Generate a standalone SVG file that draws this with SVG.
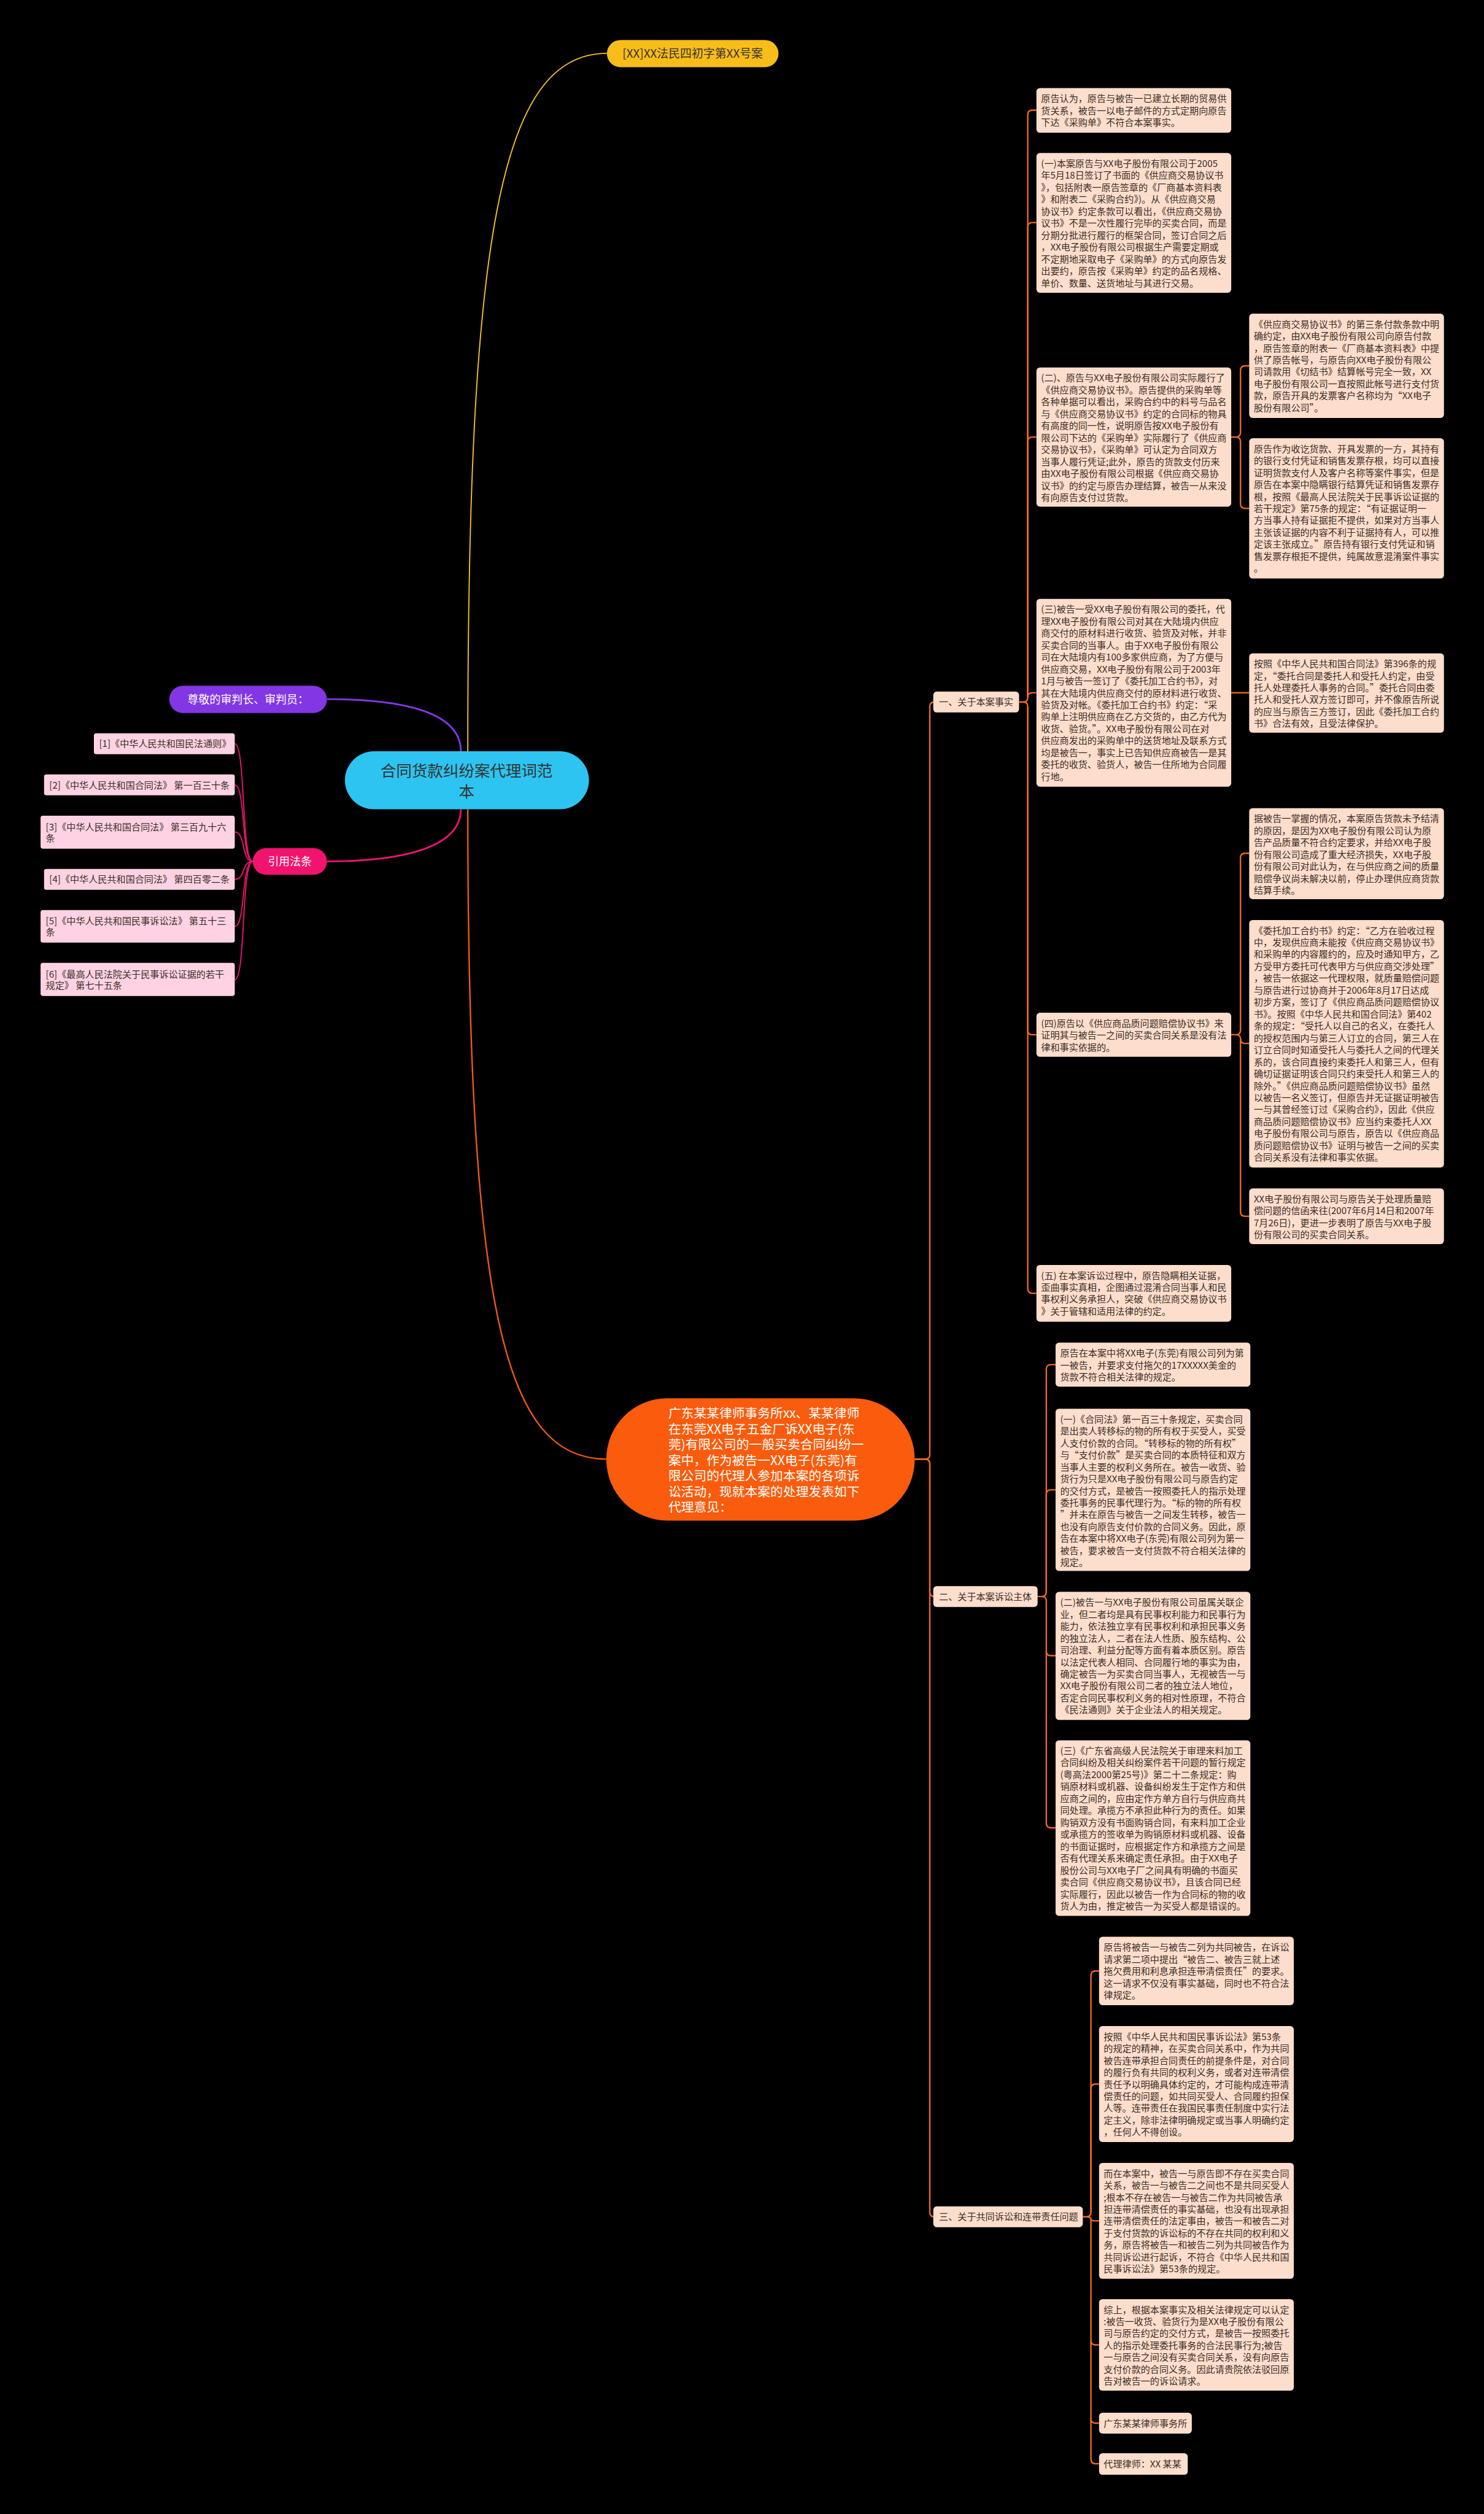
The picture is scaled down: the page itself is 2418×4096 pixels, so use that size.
<svg xmlns="http://www.w3.org/2000/svg" width="2418" height="4096" viewBox="0 0 2418 4096">
<style>
text{font-family:"Noto Sans CJK SC","Noto Sans",sans-serif}
.b{fill:#FDDDCB}
.t{font-size:16px;fill:#3a2e28}
.p{fill:#FFD2E3}
.c{fill:none;stroke:#EC6A22;stroke-width:2.5}
.w{fill:#fff}
</style>
<rect width="2418" height="4096" fill="#000"/>
<g transform="scale(0.9445)">
<g id="connectors">
<path d="M807,1296 C807,420 860,92 1047,92" fill="none" stroke="#F5C21B" stroke-width="2"/>
<path d="M564,1206 C700,1206 795,1230 795,1296" fill="none" stroke="#8438E6" stroke-width="3"/>
<path d="M795,1396 C795,1460 700,1486 564,1486" fill="none" stroke="#EC1470" stroke-width="3"/>
<path d="M807,1396 C807,2260 870,2517 1046,2517" fill="none" stroke="#F05A10" stroke-width="2.5"/>
<g fill="none" stroke="#EC1470" stroke-width="2">
<path d="M436,1486 C416,1486 424,1283 405,1283"/>
<path d="M436,1486 C416,1486 424,1354 405,1354"/>
<path d="M436,1486 C416,1486 424,1435 405,1435"/>
<path d="M436,1486 C416,1486 424,1517 405,1517"/>
<path d="M436,1486 C416,1486 424,1598 405,1598"/>
<path d="M436,1486 C416,1486 424,1690 405,1690"/>
</g>
<path class="c" d="M1578,2517 H1596 Q1604,2517 1604,2509 V1219 Q1604,1211 1612,1211"/>
<path class="c" d="M1578,2517 H1596 Q1604,2517 1604,2525 V2746 Q1604,2754 1612,2754"/>
<path class="c" d="M1578,2517 H1596 Q1604,2517 1604,2525 V3816 Q1604,3824 1612,3824"/>
<path class="c" d="M1758,1211 H1765 Q1773,1211 1773,1203 V198 Q1773,190 1781,190 H1788"/>
<path class="c" d="M1773,1203 V392 Q1773,384 1781,384 H1788"/>
<path class="c" d="M1773,1203 V762 Q1773,754 1781,754 H1788"/>
<path class="c" d="M1773,1203 Q1773,1195 1781,1195 H1788"/>
<path class="c" d="M1765,1211 Q1773,1211 1773,1219 V1777 Q1773,1785 1781,1785 H1788"/>
<path class="c" d="M1773,1219 V2223 Q1773,2231 1781,2231 H1788"/>
<path class="c" d="M2124,754 H2132 Q2140,754 2140,746 V639 Q2140,631 2148,631 H2155"/>
<path class="c" d="M2132,754 Q2140,754 2140,762 V869 Q2140,877 2148,877 H2155"/>
<path class="c" d="M2124,1195 H2155"/>
<path class="c" d="M2124,1785 H2132 Q2140,1785 2140,1777 V1480 Q2140,1472 2148,1472 H2155"/>
<path class="c" d="M2132,1785 Q2140,1785 2140,1792 Q2140,1800 2148,1800 H2155"/>
<path class="c" d="M2140,1792 V2090 Q2140,2098 2148,2098 H2155"/>
<path class="c" d="M1790,2754 H1797 Q1805,2754 1805,2746 V2362 Q1805,2354 1813,2354 H1821"/>
<path class="c" d="M1805,2746 V2578 Q1805,2570 1813,2570 H1821"/>
<path class="c" d="M1797,2754 Q1805,2754 1805,2762 V2848 Q1805,2856 1813,2856 H1821"/>
<path class="c" d="M1805,2848 V3145 Q1805,3153 1813,3153 H1821"/>
<path class="c" d="M1868,3824 H1874 Q1882,3824 1882,3816 V3408 Q1882,3400 1890,3400 H1896"/>
<path class="c" d="M1882,3816 V3603 Q1882,3595 1890,3595 H1896"/>
<path class="c" d="M1874,3824 Q1882,3824 1882,3828 Q1882,3831 1890,3831 H1896"/>
<path class="c" d="M1882,3828 V4037 Q1882,4045 1890,4045 H1896"/>
<path class="c" d="M1882,4037 V4172 Q1882,4180 1890,4180 H1896"/>
<path class="c" d="M1882,4172 V4242 Q1882,4250 1890,4250 H1896"/>
</g>

<g id="title"><rect x="1047" y="69" width="296" height="47" rx="23.5" fill="#F8BD18"/><text x="1195" y="99" font-size="20" fill="#333" text-anchor="middle">[XX]XX法民四初字第XX号案</text></g>
<g id="root"><rect x="595" y="1296" width="421" height="100" rx="50" fill="#2DC4F1"/><text font-size="27" fill="#333" text-anchor="middle"><tspan x="805" y="1339">合同货款纠纷案代理词范</tspan><tspan x="805" y="1375">本</tspan></text></g>
<g id="judge"><rect x="292" y="1183" width="272" height="47" rx="23.5" fill="#8236E4"/><text class="w" x="428" y="1213" font-size="19" text-anchor="middle">尊敬的审判长、审判员：</text></g>
<g id="cite"><rect x="436" y="1463" width="128" height="46" rx="23" fill="#F2136E"/><text class="w" x="500" y="1493" font-size="19" text-anchor="middle">引用法条</text></g>
<g id="cite1"><rect class="p" x="162" y="1265" width="243" height="36" rx="4"/><text class="t" x="171" y="1289">[1]《中华人民共和国民法通则》</text></g>
<g id="cite2"><rect class="p" x="76" y="1336" width="329" height="36" rx="4"/><text class="t" x="85" y="1360">[2]《中华人民共和国合同法》 第一百三十条</text></g>
<g id="cite3"><rect class="p" x="70" y="1407" width="335" height="57" rx="4"/><text class="t"><tspan x="79" y="1433">[3]《中华人民共和国合同法》 第三百九十六</tspan><tspan x="79" y="1452">条</tspan></text></g>
<g id="cite4"><rect class="p" x="76" y="1499" width="329" height="36" rx="4"/><text class="t" x="85" y="1523">[4]《中华人民共和国合同法》 第四百零二条</text></g>
<g id="cite5"><rect class="p" x="70" y="1570" width="335" height="56" rx="4"/><text class="t"><tspan x="79" y="1595">[5]《中华人民共和国民事诉讼法》 第五十三</tspan><tspan x="79" y="1614">条</tspan></text></g>
<g id="cite6"><rect class="p" x="70" y="1661" width="335" height="57" rx="4"/><text class="t"><tspan x="79" y="1687">[6]《最高人民法院关于民事诉讼证据的若干</tspan><tspan x="79" y="1706">规定》 第七十五条</tspan></text></g>

<g id="main"><rect x="1046" y="2412" width="532" height="211" rx="105" fill="#FA5B0C"/><text class="w" font-size="22"><tspan x="1153" y="2446">广东某某律师事务所xx、某某律师</tspan><tspan x="1153" y="2473">在东莞XX电子五金厂诉XX电子(东</tspan><tspan x="1153" y="2500">莞)有限公司的一般买卖合同纠纷一</tspan><tspan x="1153" y="2527">案中，作为被告一XX电子(东莞)有</tspan><tspan x="1153" y="2554">限公司的代理人参加本案的各项诉</tspan><tspan x="1153" y="2581">讼活动，现就本案的处理发表如下</tspan><tspan x="1153" y="2608">代理意见：</tspan></text></g>

<g id="sec1"><rect class="b" x="1610" y="1193" width="148" height="36" rx="6"/><text class="t" x="1620" y="1217">一、关于本案事实</text></g>
<g id="sec2"><rect class="b" x="1610" y="2736" width="180" height="36" rx="6"/><text class="t" x="1620" y="2760">二、关于本案诉讼主体</text></g>
<g id="sec3"><rect class="b" x="1610" y="3806" width="258" height="36" rx="6"/><text class="t" x="1620" y="3830">三、关于共同诉讼和连带责任问题</text></g>

<g id="a1" transform="translate(1788,152)"><rect class="b" width="336" height="77" rx="6"/><text class="t" y="24"><tspan x="8">原告认为，原告与被告一已建立长期的贸易供</tspan><tspan x="8" dy="20.6">货关系，被告一以电子邮件的方式定期向原告</tspan><tspan x="8" dy="20.6">下达《采购单》不符合本案事实。</tspan></text></g>
<g id="a2" transform="translate(1788,264)"><rect class="b" width="336" height="241" rx="6"/><text class="t" y="24"><tspan x="8">(一)本案原告与XX电子股份有限公司于2005</tspan><tspan x="8" dy="20.6">年5月18日签订了书面的《供应商交易协议书</tspan><tspan x="8" dy="20.6">》，包括附表一原告签章的《厂商基本资料表</tspan><tspan x="8" dy="20.6">》和附表二《采购合约》)。从《供应商交易</tspan><tspan x="8" dy="20.6">协议书》约定条款可以看出，《供应商交易协</tspan><tspan x="8" dy="20.6">议书》不是一次性履行完毕的买卖合同，而是</tspan><tspan x="8" dy="20.6">分期分批进行履行的框架合同，签订合同之后</tspan><tspan x="8" dy="20.6">，XX电子股份有限公司根据生产需要定期或</tspan><tspan x="8" dy="20.6">不定期地采取电子《采购单》的方式向原告发</tspan><tspan x="8" dy="20.6">出要约，原告按《采购单》约定的品名规格、</tspan><tspan x="8" dy="20.6">单价、数量、送货地址与其进行交易。</tspan></text></g>
<g id="a3" transform="translate(1788,634)"><rect class="b" width="336" height="240" rx="6"/><text class="t" y="24"><tspan x="8">(二)、原告与XX电子股份有限公司实际履行了</tspan><tspan x="8" dy="20.6">《供应商交易协议书》。原告提供的采购单等</tspan><tspan x="8" dy="20.6">各种单据可以看出，采购合约中的料号与品名</tspan><tspan x="8" dy="20.6">与《供应商交易协议书》约定的合同标的物具</tspan><tspan x="8" dy="20.6">有高度的同一性，说明原告按XX电子股份有</tspan><tspan x="8" dy="20.6">限公司下达的《采购单》实际履行了《供应商</tspan><tspan x="8" dy="20.6">交易协议书》，《采购单》可认定为合同双方</tspan><tspan x="8" dy="20.6">当事人履行凭证;此外，原告的货款支付历来</tspan><tspan x="8" dy="20.6">由XX电子股份有限公司根据《供应商交易协</tspan><tspan x="8" dy="20.6">议书》的约定与原告办理结算，被告一从来没</tspan><tspan x="8" dy="20.6">有向原告支付过货款。</tspan></text></g>
<g id="a4" transform="translate(1788,1033)"><rect class="b" width="336" height="324" rx="6"/><text class="t" y="24"><tspan x="8">(三)被告一受XX电子股份有限公司的委托，代</tspan><tspan x="8" dy="20.6">理XX电子股份有限公司对其在大陆境内供应</tspan><tspan x="8" dy="20.6">商交付的原材料进行收货、验货及对帐，并非</tspan><tspan x="8" dy="20.6">买卖合同的当事人。由于XX电子股份有限公</tspan><tspan x="8" dy="20.6">司在大陆境内有100多家供应商，为了方便与</tspan><tspan x="8" dy="20.6">供应商交易，XX电子股份有限公司于2003年</tspan><tspan x="8" dy="20.6">1月与被告一签订了《委托加工合约书》，对</tspan><tspan x="8" dy="20.6">其在大陆境内供应商交付的原材料进行收货、</tspan><tspan x="8" dy="20.6">验货及对帐。《委托加工合约书》约定：“采</tspan><tspan x="8" dy="20.6">购单上注明供应商在乙方交货的，由乙方代为</tspan><tspan x="8" dy="20.6">收货、验货。”。XX电子股份有限公司在对</tspan><tspan x="8" dy="20.6">供应商发出的采购单中的送货地址及联系方式</tspan><tspan x="8" dy="20.6">均是被告一，事实上已告知供应商被告一是其</tspan><tspan x="8" dy="20.6">委托的收货、验货人，被告一住所地为合同履</tspan><tspan x="8" dy="20.6">行地。</tspan></text></g>
<g id="a5" transform="translate(1788,1747)"><rect class="b" width="336" height="76" rx="6"/><text class="t" y="24"><tspan x="8">(四)原告以《供应商品质问题赔偿协议书》来</tspan><tspan x="8" dy="20.6">证明其与被告一之间的买卖合同关系是没有法</tspan><tspan x="8" dy="20.6">律和事实依据的。</tspan></text></g>
<g id="a6" transform="translate(1788,2182)"><rect class="b" width="336" height="98" rx="6"/><text class="t" y="24"><tspan x="8">(五) 在本案诉讼过程中，原告隐瞒相关证据，</tspan><tspan x="8" dy="20.6">歪曲事实真相，企图通过混淆合同当事人和民</tspan><tspan x="8" dy="20.6">事权利义务承担人，突破《供应商交易协议书</tspan><tspan x="8" dy="20.6">》关于管辖和适用法律的约定。</tspan></text></g>

<g id="b1" transform="translate(2155,541)"><rect class="b" width="336" height="180" rx="6"/><text class="t" y="24"><tspan x="8">《供应商交易协议书》的第三条付款条款中明</tspan><tspan x="8" dy="20.6">确约定，由XX电子股份有限公司向原告付款</tspan><tspan x="8" dy="20.6">，原告签章的附表一《厂商基本资料表》中提</tspan><tspan x="8" dy="20.6">供了原告帐号，与原告向XX电子股份有限公</tspan><tspan x="8" dy="20.6">司请款用《切结书》结算帐号完全一致，XX</tspan><tspan x="8" dy="20.6">电子股份有限公司一直按照此帐号进行支付货</tspan><tspan x="8" dy="20.6">款，原告开具的发票客户名称均为“XX电子</tspan><tspan x="8" dy="20.6">股份有限公司”。</tspan></text></g>
<g id="b2" transform="translate(2155,756)"><rect class="b" width="336" height="242" rx="6"/><text class="t" y="24"><tspan x="8">原告作为收讫货款、开具发票的一方，其持有</tspan><tspan x="8" dy="20.6">的银行支付凭证和销售发票存根，均可以直接</tspan><tspan x="8" dy="20.6">证明货款支付人及客户名称等案件事实，但是</tspan><tspan x="8" dy="20.6">原告在本案中隐瞒银行结算凭证和销售发票存</tspan><tspan x="8" dy="20.6">根，按照《最高人民法院关于民事诉讼证据的</tspan><tspan x="8" dy="20.6">若干规定》第75条的规定：“有证据证明一</tspan><tspan x="8" dy="20.6">方当事人持有证据拒不提供，如果对方当事人</tspan><tspan x="8" dy="20.6">主张该证据的内容不利于证据持有人，可以推</tspan><tspan x="8" dy="20.6">定该主张成立。”原告持有银行支付凭证和销</tspan><tspan x="8" dy="20.6">售发票存根拒不提供，纯属故意混淆案件事实</tspan><tspan x="8" dy="20.6">。</tspan></text></g>
<g id="b3" transform="translate(2155,1127)"><rect class="b" width="336" height="137" rx="6"/><text class="t" y="24"><tspan x="8">按照《中华人民共和国合同法》第396条的规</tspan><tspan x="8" dy="20.6">定，“委托合同是委托人和受托人约定，由受</tspan><tspan x="8" dy="20.6">托人处理委托人事务的合同。”委托合同由委</tspan><tspan x="8" dy="20.6">托人和受托人双方签订即可，并不像原告所说</tspan><tspan x="8" dy="20.6">的应当与原告三方签订，因此《委托加工合约</tspan><tspan x="8" dy="20.6">书》合法有效，且受法律保护。</tspan></text></g>
<g id="b4" transform="translate(2155,1394)"><rect class="b" width="336" height="157" rx="6"/><text class="t" y="24"><tspan x="8">据被告一掌握的情况，本案原告货款未予结清</tspan><tspan x="8" dy="20.6">的原因，是因为XX电子股份有限公司认为原</tspan><tspan x="8" dy="20.6">告产品质量不符合约定要求，并给XX电子股</tspan><tspan x="8" dy="20.6">份有限公司造成了重大经济损失，XX电子股</tspan><tspan x="8" dy="20.6">份有限公司对此认为，在与供应商之间的质量</tspan><tspan x="8" dy="20.6">赔偿争议尚未解决以前，停止办理供应商货款</tspan><tspan x="8" dy="20.6">结算手续。</tspan></text></g>
<g id="b5" transform="translate(2155,1587)"><rect class="b" width="336" height="427" rx="6"/><text class="t" y="24"><tspan x="8">《委托加工合约书》约定：“乙方在验收过程</tspan><tspan x="8" dy="20.6">中，发现供应商未能按《供应商交易协议书》</tspan><tspan x="8" dy="20.6">和采购单的内容履约的，应及时通知甲方，乙</tspan><tspan x="8" dy="20.6">方受甲方委托可代表甲方与供应商交涉处理”</tspan><tspan x="8" dy="20.6">，被告一依据这一代理权限，就质量赔偿问题</tspan><tspan x="8" dy="20.6">与原告进行过协商并于2006年8月17日达成</tspan><tspan x="8" dy="20.6">初步方案，签订了《供应商品质问题赔偿协议</tspan><tspan x="8" dy="20.6">书》。按照《中华人民共和国合同法》第402</tspan><tspan x="8" dy="20.6">条的规定：“受托人以自己的名义，在委托人</tspan><tspan x="8" dy="20.6">的授权范围内与第三人订立的合同，第三人在</tspan><tspan x="8" dy="20.6">订立合同时知道受托人与委托人之间的代理关</tspan><tspan x="8" dy="20.6">系的，该合同直接约束委托人和第三人，但有</tspan><tspan x="8" dy="20.6">确切证据证明该合同只约束受托人和第三人的</tspan><tspan x="8" dy="20.6">除外。”《供应商品质问题赔偿协议书》虽然</tspan><tspan x="8" dy="20.6">以被告一名义签订，但原告并无证据证明被告</tspan><tspan x="8" dy="20.6">一与其曾经签订过《采购合约》，因此《供应</tspan><tspan x="8" dy="20.6">商品质问题赔偿协议书》应当约束委托人XX</tspan><tspan x="8" dy="20.6">电子股份有限公司与原告，原告以《供应商品</tspan><tspan x="8" dy="20.6">质问题赔偿协议书》证明与被告一之间的买卖</tspan><tspan x="8" dy="20.6">合同关系没有法律和事实依据。</tspan></text></g>
<g id="b6" transform="translate(2155,2050)"><rect class="b" width="336" height="96" rx="6"/><text class="t" y="24"><tspan x="8">XX电子股份有限公司与原告关于处理质量赔</tspan><tspan x="8" dy="20.6">偿问题的信函来往(2007年6月14日和2007年</tspan><tspan x="8" dy="20.6">7月26日)，更进一步表明了原告与XX电子股</tspan><tspan x="8" dy="20.6">份有限公司的买卖合同关系。</tspan></text></g>

<g id="c1" transform="translate(1821,2316)"><rect class="b" width="336" height="76" rx="6"/><text class="t" y="24"><tspan x="8">原告在本案中将XX电子(东莞)有限公司列为第</tspan><tspan x="8" dy="20.6">一被告，并要求支付拖欠的17XXXXX美金的</tspan><tspan x="8" dy="20.6">货款不符合相关法律的规定。</tspan></text></g>
<g id="c2" transform="translate(1821,2430)"><rect class="b" width="336" height="280" rx="6"/><text class="t" y="24"><tspan x="8">(一)《合同法》第一百三十条规定，买卖合同</tspan><tspan x="8" dy="20.6">是出卖人转移标的物的所有权于买受人，买受</tspan><tspan x="8" dy="20.6">人支付价款的合同。“转移标的物的所有权”</tspan><tspan x="8" dy="20.6">与“支付价款”是买卖合同的本质特征和双方</tspan><tspan x="8" dy="20.6">当事人主要的权利义务所在。被告一收货、验</tspan><tspan x="8" dy="20.6">货行为只是XX电子股份有限公司与原告约定</tspan><tspan x="8" dy="20.6">的交付方式，是被告一按照委托人的指示处理</tspan><tspan x="8" dy="20.6">委托事务的民事代理行为。“标的物的所有权</tspan><tspan x="8" dy="20.6">”并未在原告与被告一之间发生转移，被告一</tspan><tspan x="8" dy="20.6">也没有向原告支付价款的合同义务。因此，原</tspan><tspan x="8" dy="20.6">告在本案中将XX电子(东莞)有限公司列为第一</tspan><tspan x="8" dy="20.6">被告，要求被告一支付货款不符合相关法律的</tspan><tspan x="8" dy="20.6">规定。</tspan></text></g>
<g id="c3" transform="translate(1821,2746)"><rect class="b" width="336" height="221" rx="6"/><text class="t" y="24"><tspan x="8">(二)被告一与XX电子股份有限公司虽属关联企</tspan><tspan x="8" dy="20.6">业，但二者均是具有民事权利能力和民事行为</tspan><tspan x="8" dy="20.6">能力，依法独立享有民事权利和承担民事义务</tspan><tspan x="8" dy="20.6">的独立法人，二者在法人性质、股东结构、公</tspan><tspan x="8" dy="20.6">司治理、利益分配等方面有着本质区别。原告</tspan><tspan x="8" dy="20.6">以法定代表人相同、合同履行地的事实为由，</tspan><tspan x="8" dy="20.6">确定被告一为买卖合同当事人，无视被告一与</tspan><tspan x="8" dy="20.6">XX电子股份有限公司二者的独立法人地位，</tspan><tspan x="8" dy="20.6">否定合同民事权利义务的相对性原理，不符合</tspan><tspan x="8" dy="20.6">《民法通则》关于企业法人的相关规定。</tspan></text></g>
<g id="c4" transform="translate(1821,3002)"><rect class="b" width="336" height="303" rx="6"/><text class="t" y="24"><tspan x="8">(三)《广东省高级人民法院关于审理来料加工</tspan><tspan x="8" dy="20.6">合同纠纷及相关纠纷案件若干问题的暂行规定</tspan><tspan x="8" dy="20.6">(粤高法2000第25号)》第二十二条规定：购</tspan><tspan x="8" dy="20.6">销原材料或机器、设备纠纷发生于定作方和供</tspan><tspan x="8" dy="20.6">应商之间的，应由定作方单方自行与供应商共</tspan><tspan x="8" dy="20.6">同处理。承揽方不承担此种行为的责任。如果</tspan><tspan x="8" dy="20.6">购销双方没有书面购销合同，有来料加工企业</tspan><tspan x="8" dy="20.6">或承揽方的签收单为购销原材料或机器、设备</tspan><tspan x="8" dy="20.6">的书面证据时，应根据定作方和承揽方之间是</tspan><tspan x="8" dy="20.6">否有代理关系来确定责任承担。由于XX电子</tspan><tspan x="8" dy="20.6">股份公司与XX电子厂之间具有明确的书面买</tspan><tspan x="8" dy="20.6">卖合同《供应商交易协议书》，且该合同已经</tspan><tspan x="8" dy="20.6">实际履行，因此以被告一作为合同标的物的收</tspan><tspan x="8" dy="20.6">货人为由，推定被告一为买受人都是错误的。</tspan></text></g>

<g id="d1" transform="translate(1896,3341)"><rect class="b" width="336" height="118" rx="6"/><text class="t" y="24"><tspan x="8">原告将被告一与被告二列为共同被告，在诉讼</tspan><tspan x="8" dy="20.6">请求第二项中提出“被告二、被告三就上述</tspan><tspan x="8" dy="20.6">拖欠费用和利息承担连带清偿责任”的要求。</tspan><tspan x="8" dy="20.6">这一请求不仅没有事实基础，同时也不符合法</tspan><tspan x="8" dy="20.6">律规定。</tspan></text></g>
<g id="d2" transform="translate(1896,3495)"><rect class="b" width="336" height="200" rx="6"/><text class="t" y="24"><tspan x="8">按照《中华人民共和国民事诉讼法》第53条</tspan><tspan x="8" dy="20.6">的规定的精神，在买卖合同关系中，作为共同</tspan><tspan x="8" dy="20.6">被告连带承担合同责任的前提条件是，对合同</tspan><tspan x="8" dy="20.6">的履行负有共同的权利义务，或者对连带清偿</tspan><tspan x="8" dy="20.6">责任予以明确具体约定的，才可能构成连带清</tspan><tspan x="8" dy="20.6">偿责任的问题，如共同买受人、合同履约担保</tspan><tspan x="8" dy="20.6">人等。连带责任在我国民事责任制度中实行法</tspan><tspan x="8" dy="20.6">定主义，除非法律明确规定或当事人明确约定</tspan><tspan x="8" dy="20.6">，任何人不得创设。</tspan></text></g>
<g id="d3" transform="translate(1896,3731)"><rect class="b" width="336" height="200" rx="6"/><text class="t" y="24"><tspan x="8">而在本案中，被告一与原告即不存在买卖合同</tspan><tspan x="8" dy="20.6">关系，被告一与被告二之间也不是共同买受人</tspan><tspan x="8" dy="20.6">;根本不存在被告一与被告二作为共同被告承</tspan><tspan x="8" dy="20.6">担连带清偿责任的事实基础，也没有出现承担</tspan><tspan x="8" dy="20.6">连带清偿责任的法定事由，被告一和被告二对</tspan><tspan x="8" dy="20.6">于支付货款的诉讼标的不存在共同的权利和义</tspan><tspan x="8" dy="20.6">务，原告将被告一和被告二列为共同被告作为</tspan><tspan x="8" dy="20.6">共同诉讼进行起诉，不符合《中华人民共和国</tspan><tspan x="8" dy="20.6">民事诉讼法》第53条的规定。</tspan></text></g>
<g id="d4" transform="translate(1896,3966)"><rect class="b" width="336" height="158" rx="6"/><text class="t" y="24"><tspan x="8">综上，根据本案事实及相关法律规定可以认定</tspan><tspan x="8" dy="20.6">:被告一收货、验货行为是XX电子股份有限公</tspan><tspan x="8" dy="20.6">司与原告约定的交付方式，是被告一按照委托</tspan><tspan x="8" dy="20.6">人的指示处理委托事务的合法民事行为;被告</tspan><tspan x="8" dy="20.6">一与原告之间没有买卖合同关系，没有向原告</tspan><tspan x="8" dy="20.6">支付价款的合同义务。因此请贵院依法驳回原</tspan><tspan x="8" dy="20.6">告对被告一的诉讼请求。</tspan></text></g>
<g id="d5" transform="translate(1896,4162)"><rect class="b" width="160" height="36" rx="6"/><text class="t" x="8" y="24">广东某某律师事务所</text></g>
<g id="d6" transform="translate(1896,4232)"><rect class="b" width="153" height="37" rx="6"/><text class="t" x="8" y="24">代理律师：XX 某某</text></g>
</g>
</svg>
